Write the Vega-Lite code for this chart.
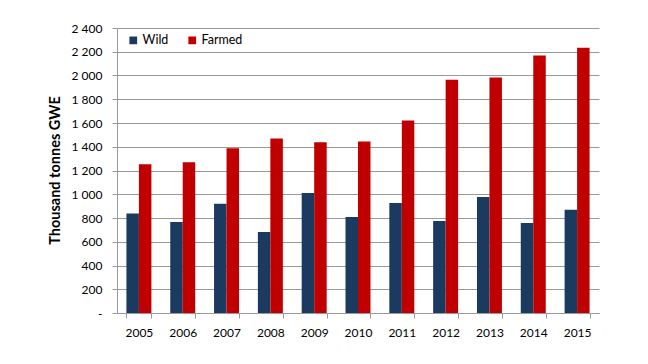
{
  "$schema": "https://vega.github.io/schema/vega-lite/v6.json",
  "autosize": "none",
  "width": 482,
  "height": 285,
  "padding": {"left": 117, "top": 28, "right": 49, "bottom": 51},
  "background": "white",
  "config": {"view": {"stroke": null}, "font": "Lato"},
  "data": {"values": [
    {"year": "2005", "type": "Wild", "value": 837},
    {"year": "2005", "type": "Farmed", "value": 1252},
    {"year": "2006", "type": "Wild", "value": 766},
    {"year": "2006", "type": "Farmed", "value": 1269},
    {"year": "2007", "type": "Wild", "value": 921},
    {"year": "2007", "type": "Farmed", "value": 1387},
    {"year": "2008", "type": "Wild", "value": 682},
    {"year": "2008", "type": "Farmed", "value": 1470},
    {"year": "2009", "type": "Wild", "value": 1010},
    {"year": "2009", "type": "Farmed", "value": 1437},
    {"year": "2010", "type": "Wild", "value": 808},
    {"year": "2010", "type": "Farmed", "value": 1445},
    {"year": "2011", "type": "Wild", "value": 926},
    {"year": "2011", "type": "Farmed", "value": 1622},
    {"year": "2012", "type": "Wild", "value": 774},
    {"year": "2012", "type": "Farmed", "value": 1965},
    {"year": "2013", "type": "Wild", "value": 976},
    {"year": "2013", "type": "Farmed", "value": 1984},
    {"year": "2014", "type": "Wild", "value": 758},
    {"year": "2014", "type": "Farmed", "value": 2169},
    {"year": "2015", "type": "Wild", "value": 870},
    {"year": "2015", "type": "Farmed", "value": 2234}
  ]},
  "mark": {"type": "bar"},
  "encoding": {
    "x": {
      "field": "year", "type": "nominal",
      "scale": {"paddingInner": 0.43, "paddingOuter": 0.215},
      "axis": {
        "title": null, "labelAngle": 0, "tickBand": "extent",
        "domainColor": "#999999", "tickColor": "#999999", "tickSize": 5,
        "labelFontSize": 12, "labelColor": "#000000", "labelPadding": 9, "grid": false
      }
    },
    "xOffset": {"field": "type", "type": "nominal", "sort": ["Wild", "Farmed"]},
    "y": {
      "field": "value", "type": "quantitative",
      "scale": {"domain": [0, 2400]},
      "axis": {
        "title": "Thousand tonnes GWE",
        "titleFontSize": 14.5, "titleFontWeight": "bold", "titleColor": "#000000",
        "titleX": -62, "titleY": 142, "titleAngle": -90, "titleAlign": "center", "titleBaseline": "middle",
        "values": [0, 200, 400, 600, 800, 1000, 1200, 1400, 1600, 1800, 2000, 2200, 2400],
        "labelExpr": "datum.value == 0 ? '-' : replace(format(datum.value, ','), ',', ' ')",
        "labelFontSize": 12, "labelColor": "#000000", "labelPadding": 10,
        "domainColor": "#999999", "tickColor": "#999999", "tickSize": 5,
        "gridColor": "#999999", "gridWidth": 1
      }
    },
    "color": {
      "field": "type", "type": "nominal",
      "scale": {"domain": ["Wild", "Farmed"], "range": ["#1b3a5f", "#c00000"]},
      "legend": {
        "title": null, "orient": "none", "legendX": 10, "legendY": 6,
        "direction": "horizontal", "symbolType": "square", "symbolSize": 60,
        "labelFontSize": 12.5, "labelColor": "#000000", "columnPadding": 17, "labelOffset": 3
      }
    }
  }
}
